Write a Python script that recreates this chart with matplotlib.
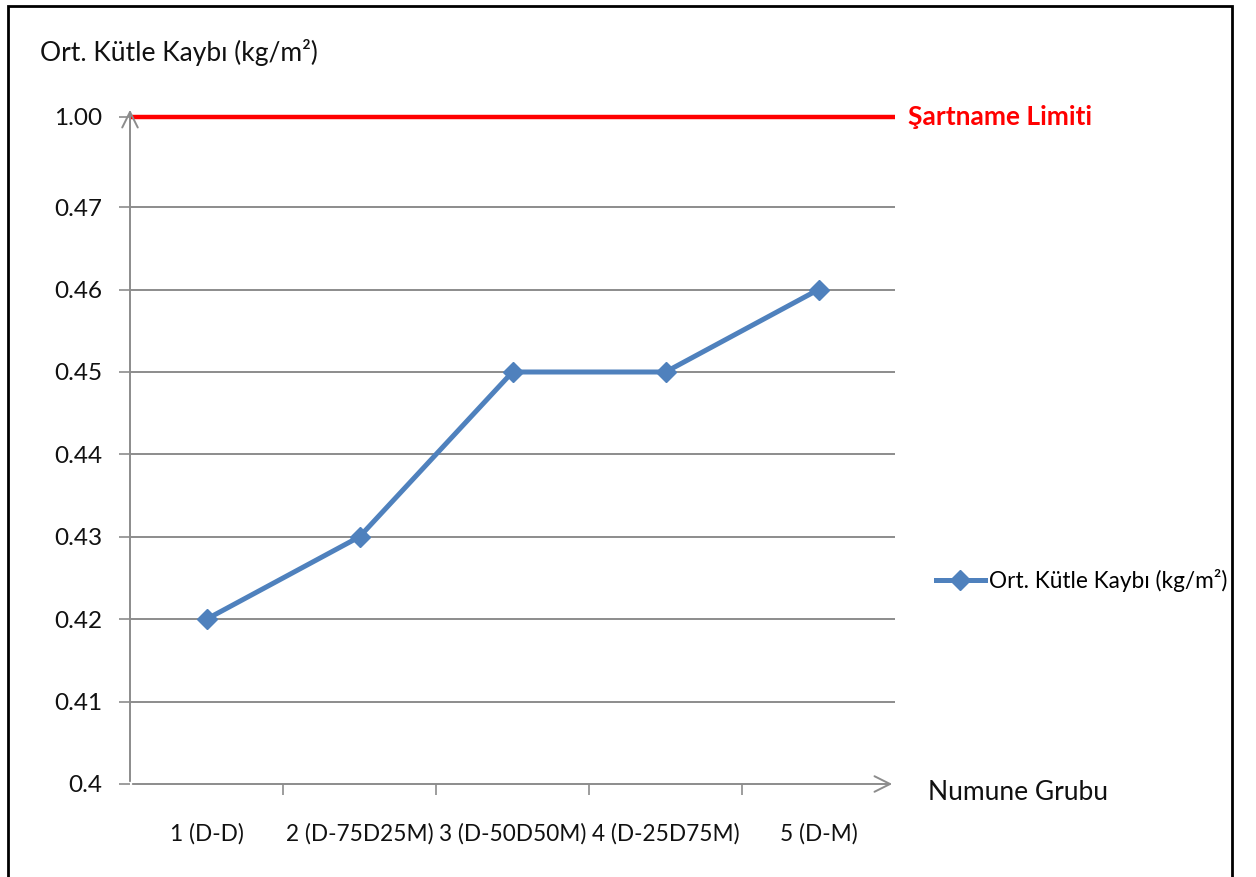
import numpy as np
import matplotlib
matplotlib.use("Agg")
import matplotlib.pyplot as plt
from matplotlib.patches import Rectangle
from matplotlib.transforms import blended_transform_factory

plt.rcParams['font.family'] = ['Lato', 'DejaVu Sans']

# data
groups = ["1 (D-D)", "2 (D-75D25M)", "3 (D-50D50M)", "4 (D-25D75M)", "5 (D-M)"]
kutle_kaybi = [0.42, 0.43, 0.45, 0.45, 0.46]
sartname_limiti = 1.00
y_ticks = [0.40, 0.41, 0.42, 0.43, 0.44, 0.45, 0.46, 0.47, 1.00]
y_tick_labels = ["0.4", "0.41", "0.42", "0.43", "0.44", "0.45", "0.46", "0.47", "1.00"]

BLUE = "#4f81bd"
GRID = "#8c8c8c"
TXT = "#111111"


# broken y scale: 0.40-0.47 linear, then squeezed up to the limit
def fwd(v):
    v = np.asarray(v, dtype=float)
    return np.where(v <= 0.47, (v - 0.40) * 100, 7 + (v - 0.47) / 0.53 * 1.1)


def inv(p):
    p = np.asarray(p, dtype=float)
    return np.where(p <= 7, 0.40 + p / 100, 0.47 + (p - 7) / 1.1 * 0.53)


fig = plt.figure(figsize=(12.56, 8.77), dpi=100)
ax = fig.add_axes([130 / 1256, 93 / 877, 765 / 1256, 677 / 877])
ax.set_yscale('function', functions=(fwd, inv))
ax.set_ylim(0.40, inv(8.216))
ax.set_xlim(0.5, 5.5)

x = np.arange(1, len(groups) + 1)
ax.plot(x, kutle_kaybi, color=BLUE, lw=3.6, marker='D', ms=10,
        label="Ort. Kütle Kaybı (kg/m²)", zorder=4)

# spec limit
ax.axhline(sartname_limiti, xmin=0.004, xmax=1, color='#ff0000', lw=3.2, zorder=3)
trans = blended_transform_factory(ax.transAxes, ax.transData)
ax.annotate("Şartname Limiti", xy=(1, sartname_limiti), xycoords=trans,
            xytext=(9, 0), textcoords='offset points', va='center', ha='left',
            color='#ff0000', fontsize=19, fontweight='bold', annotation_clip=False)

# gridlines
for v in y_ticks[1:-1]:
    ax.axhline(v, color=GRID, lw=1.4, zorder=1)

for s in ax.spines.values():
    s.set_visible(False)

# axes with open arrow heads
arrow = dict(arrowstyle='->', color=GRID, lw=1.4, mutation_scale=28)
ax.annotate('', xy=(0, 1), xytext=(0, 0), xycoords='axes fraction', arrowprops=arrow)
ax.annotate('', xy=(1, 0), xytext=(0, 0), xycoords='axes fraction', arrowprops=arrow)

ax.set_yticks(y_ticks)
ax.set_yticklabels(y_tick_labels)
ax.yaxis.set_minor_locator(plt.NullLocator())
ax.tick_params(axis='y', length=8, width=1.2, color=GRID, pad=12,
               labelsize=17.5, labelcolor=TXT)

ax.set_xticks(x)
ax.set_xticklabels(groups)
ax.set_xticks(np.arange(1.5, 5.5, 1), minor=True)
ax.tick_params(axis='x', which='major', length=0, pad=28, labelsize=16.3,
               labelcolor=TXT)
ax.tick_params(axis='x', which='minor', length=8, width=1.2, color=GRID)

ax.text(1.043, -0.012, "Numune Grubu", transform=ax.transAxes, ha='left',
        va='center', fontsize=19, color=TXT)
fig.text(40 / 1256, 1 - 52 / 877, "Ort. Kütle Kaybı (kg/m²)", ha='left',
         va='center', fontsize=19, color=TXT)

ax.legend(loc='center left', bbox_to_anchor=(1.053, 0.30), frameon=False,
          fontsize=16.3, handlelength=2.2, handletextpad=0.15, borderaxespad=0,
          borderpad=0)

# outer frame
fig.patches.append(Rectangle((8 / 1256, -0.1), 1224 / 1256, 1.1 - 6 / 877,
                             transform=fig.transFigure, fill=False,
                             ec='black', lw=2))

fig.savefig("out.png", dpi=100)
